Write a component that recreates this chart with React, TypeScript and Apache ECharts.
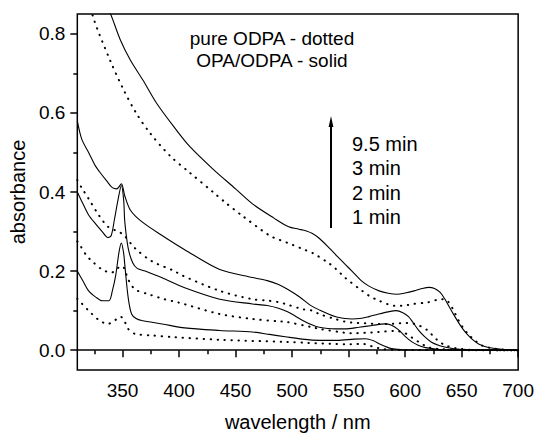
import React, { useEffect, useRef } from "react";
import * as echarts from "echarts";

// ---- tick labels ----
const xMajorTicks = [350, 400, 450, 500, 550, 600, 650, 700];
const xMinorTicks = [325, 375, 425, 475, 525, 575, 625, 675];
const yMajorTicks = [0, 0.2, 0.4, 0.6, 0.8];
const yMinorTicks = [0.1, 0.3, 0.5, 0.7];

// ---- OPA/ODPA (solid) ----
const s1Wl = [310, 315, 320, 326, 332, 338, 341, 344, 347, 349, 351, 352, 355, 358, 362, 367, 385, 405, 436, 465, 480, 494, 509, 524, 540, 555, 565, 572, 577, 583, 588, 595, 610, 700];
const s1Abs = [0.2, 0.175, 0.15, 0.135, 0.125, 0.125, 0.15, 0.19, 0.25, 0.271, 0.245, 0.2165, 0.133, 0.0915, 0.08, 0.075, 0.0665, 0.0565, 0.05, 0.046, 0.04, 0.034, 0.028, 0.025, 0.025, 0.028, 0.029, 0.024, 0.0165, 0.009, 0.004, 0.0015, 0.0005, 0];

const s2Wl = [310, 315, 320, 326, 332, 337, 340, 343, 346, 349, 351, 352, 355, 359, 363, 370, 385, 405, 436, 465, 478, 488, 496, 509, 518, 524, 538, 547, 559, 571, 582, 588, 594, 600, 606, 612, 618, 630, 650, 700];
const s2Abs = [0.4, 0.37, 0.342, 0.32, 0.3, 0.285, 0.29, 0.333, 0.38, 0.4165, 0.38, 0.325, 0.258, 0.221, 0.207, 0.2, 0.183, 0.158, 0.129, 0.117, 0.113, 0.106, 0.097, 0.076, 0.0635, 0.058, 0.054, 0.054, 0.058, 0.0625, 0.0665, 0.063, 0.052, 0.035, 0.021, 0.012, 0.0065, 0.002, 0.0005, 0];

const s3Wl = [310, 314, 320, 326, 330, 336, 341, 345, 349, 352, 357, 367, 385, 405, 436, 465, 478, 488, 496, 507, 516, 524, 538, 547, 553, 560, 568, 576, 585, 592, 598, 603, 607, 612, 617, 623, 630, 635, 645, 660, 700];
const s3Abs = [0.58, 0.533, 0.5, 0.466, 0.45, 0.428, 0.411, 0.408, 0.421, 0.39, 0.354, 0.325, 0.29, 0.254, 0.204, 0.184, 0.176, 0.166, 0.154, 0.134, 0.114, 0.102, 0.085, 0.08, 0.079, 0.08, 0.085, 0.091, 0.097, 0.1, 0.095, 0.085, 0.07, 0.05, 0.035, 0.021, 0.012, 0.008, 0.003, 0.001, 0];

const s4Wl = [310, 320, 330, 339, 348, 357, 368, 380, 395, 409, 430, 450, 465, 484, 497, 506, 512, 518, 524, 533, 540, 547, 553, 562, 568, 577, 585, 593, 600, 608, 615, 621, 626, 631, 635, 639, 643, 647, 651, 655, 660, 665, 672, 680, 690, 700];
const s4Abs = [1.15, 1.0, 0.905, 0.853, 0.785, 0.733, 0.683, 0.625, 0.5665, 0.5165, 0.458, 0.408, 0.37, 0.334, 0.312, 0.306, 0.302, 0.295, 0.283, 0.258, 0.237, 0.217, 0.2, 0.174, 0.162, 0.15, 0.144, 0.1415, 0.1445, 0.15, 0.156, 0.159, 0.156, 0.146, 0.13, 0.11, 0.09, 0.071, 0.054, 0.04, 0.026, 0.016, 0.008, 0.004, 0.001, 0];

// ---- pure ODPA (dotted) ----
const d1Wl = [310, 313, 320, 329, 337, 343, 348, 351, 355, 361, 376, 396, 436, 494, 553, 562, 568, 573, 580, 590, 700];
const d1Abs = [0.13, 0.121, 0.1, 0.0765, 0.0665, 0.075, 0.085, 0.078, 0.054, 0.0415, 0.0375, 0.033, 0.0265, 0.021, 0.015, 0.0165, 0.012, 0.008, 0.003, 0.001, 0];

const d2Wl = [310, 313, 318, 323, 332, 340, 346, 350, 353, 355, 361, 373, 387, 399, 436, 465, 488, 494, 518, 524, 547, 553, 565, 576, 591, 600, 606, 612, 620, 630, 650, 700];
const d2Abs = [0.275, 0.2625, 0.24, 0.225, 0.204, 0.196, 0.208, 0.2125, 0.195, 0.179, 0.154, 0.1415, 0.129, 0.121, 0.0915, 0.079, 0.073, 0.072, 0.058, 0.054, 0.044, 0.043, 0.044, 0.046, 0.049, 0.043, 0.032, 0.021, 0.008, 0.003, 0.001, 0];

const d3Wl = [310, 314, 320, 329, 337, 346, 351, 361, 376, 396, 402, 436, 465, 480, 489, 494, 509, 518, 524, 538, 547, 553, 565, 577, 590, 600, 606, 612, 620, 625, 630, 636, 645, 660, 700];
const d3Abs = [0.43, 0.41, 0.383, 0.3415, 0.3125, 0.3, 0.2915, 0.258, 0.225, 0.2, 0.19, 0.15, 0.129, 0.125, 0.121, 0.117, 0.104, 0.1, 0.0915, 0.079, 0.072, 0.07, 0.068, 0.066, 0.067, 0.069, 0.068, 0.063, 0.05, 0.035, 0.022, 0.012, 0.005, 0.001, 0];

const d4Wl = [310, 318, 324, 339, 351, 362, 374, 392, 409, 430, 442, 455, 480, 489, 500, 510, 518, 532, 539, 547, 562, 568, 577, 591, 600, 606, 620, 632, 636, 640, 643, 647, 651, 656, 662, 668, 675, 685, 700];
const d4Abs = [1.02, 0.92, 0.842, 0.733, 0.658, 0.6, 0.55, 0.4915, 0.45, 0.4, 0.371, 0.342, 0.29, 0.279, 0.267, 0.255, 0.246, 0.221, 0.205, 0.183, 0.15, 0.138, 0.125, 0.1125, 0.113, 0.1165, 0.121, 0.129, 0.128, 0.115, 0.1, 0.077, 0.058, 0.04, 0.024, 0.012, 0.006, 0.002, 0];

const timeLabels = ["9.5 min", "3 min", "2 min", "1 min"];
const noteLines = ["pure ODPA - dotted", "OPA/ODPA - solid"];

const FONT = '"Liberation Sans", Arial, Helvetica, sans-serif';
const zip = (a: number[], b: number[]) => a.map((v, i) => [v, b[i]]);

export default function App() {
  const ref = useRef<HTMLDivElement>(null);
  useEffect(() => {
    if (!ref.current) return;
    const chart = echarts.init(ref.current, null, { renderer: "svg" });
    const solid = (name: string, wl: number[], ab: number[], extra: any = {}) => ({
      name, type: "line", data: zip(wl, ab), showSymbol: false, smooth: 0.3,
      lineStyle: { color: "#000", width: 1.1, type: "solid" }, xAxisIndex: 0, yAxisIndex: 0, silent: true, ...extra,
    });
    const dotted = (name: string, wl: number[], ab: number[]) => ({
      name, type: "line", data: zip(wl, ab), showSymbol: false, smooth: 0.3,
      lineStyle: { color: "#000", width: 2, type: [0.4, 6.6], cap: "round" }, xAxisIndex: 0, yAxisIndex: 0, silent: true,
    });
    const tickStyle = { color: "#000", width: 1.5 };
    const labelStyle = { color: "#000", fontSize: 19, fontFamily: FONT };
    chart.setOption({
      animation: false,
      grid: { left: 77, right: 16, top: 14, bottom: 64, show: true, borderColor: "#000", borderWidth: 1.5 },
      xAxis: [
        {
          type: "value", min: 310, max: 700, position: "bottom",
          axisLine: { show: false }, splitLine: { show: false },
          axisTick: { show: true, inside: false, length: 7, lineStyle: tickStyle, customValues: xMajorTicks },
          axisLabel: { ...labelStyle, margin: 11, customValues: xMajorTicks },
          name: "wavelength / nm", nameLocation: "middle", nameGap: 42,
          nameTextStyle: { color: "#000", fontSize: 20, fontFamily: FONT },
        },
        {
          type: "value", min: 310, max: 700, position: "bottom",
          axisLine: { show: false }, splitLine: { show: false }, axisLabel: { show: false },
          axisTick: { show: true, inside: false, length: 4, lineStyle: tickStyle, customValues: xMinorTicks },
        },
      ],
      yAxis: [
        {
          type: "value", min: -0.05, max: 0.85, position: "left",
          axisLine: { show: false }, splitLine: { show: false },
          axisTick: { show: true, inside: false, length: 7, lineStyle: tickStyle, customValues: yMajorTicks },
          axisLabel: { ...labelStyle, margin: 12, customValues: yMajorTicks, formatter: (v: number) => v.toFixed(1) },
          name: "absorbance", nameLocation: "middle", nameGap: 44, nameRotate: 90,
          nameTextStyle: { color: "#000", fontSize: 20, fontFamily: FONT },
        },
        {
          type: "value", min: -0.05, max: 0.85, position: "left",
          axisLine: { show: false }, splitLine: { show: false }, axisLabel: { show: false },
          axisTick: { show: true, inside: false, length: 4, lineStyle: tickStyle, customValues: yMinorTicks },
        },
      ],
      series: [
        solid("1 min OPA/ODPA", s1Wl, s1Abs, {
          markLine: {
            silent: true, symbol: "none", label: { show: false },
            lineStyle: { color: "#000", width: 1.5, type: "solid" },
            data: [{ yAxis: 0 }],
          },
        }),
        solid("2 min OPA/ODPA", s2Wl, s2Abs),
        solid("3 min OPA/ODPA", s3Wl, s3Abs),
        solid("9.5 min OPA/ODPA", s4Wl, s4Abs),
        dotted("1 min ODPA", d1Wl, d1Abs),
        dotted("2 min ODPA", d2Wl, d2Abs),
        dotted("3 min ODPA", d3Wl, d3Abs),
        dotted("9.5 min ODPA", d4Wl, d4Abs),
      ],
      graphic: [
        ...noteLines.map((t, i) => ({
          type: "text", x: 272, y: 38 + i * 22,
          style: { text: t, fill: "#000", font: `19px ${FONT}`, textAlign: "center", textVerticalAlign: "middle", align: "center", verticalAlign: "middle" },
        })),
        ...timeLabels.map((t, i) => ({
          type: "text", x: 352, y: 144 + i * 24.3,
          style: { text: t, fill: "#000", font: `20px ${FONT}`, textAlign: "left", textVerticalAlign: "middle", align: "left", verticalAlign: "middle" },
        })),
        { type: "line", shape: { x1: 331, y1: 228, x2: 331, y2: 124 }, style: { stroke: "#000", lineWidth: 2 } },
        { type: "polygon", shape: { points: [[331, 116], [328.6, 127], [333.4, 127]] }, style: { fill: "#000" } },
      ],
    });
    return () => chart.dispose();
  }, []);
  return <div ref={ref} style={{ position: "fixed", left: 0, top: 0, width: 537, height: 437, background: "#fff" }} />;
}
